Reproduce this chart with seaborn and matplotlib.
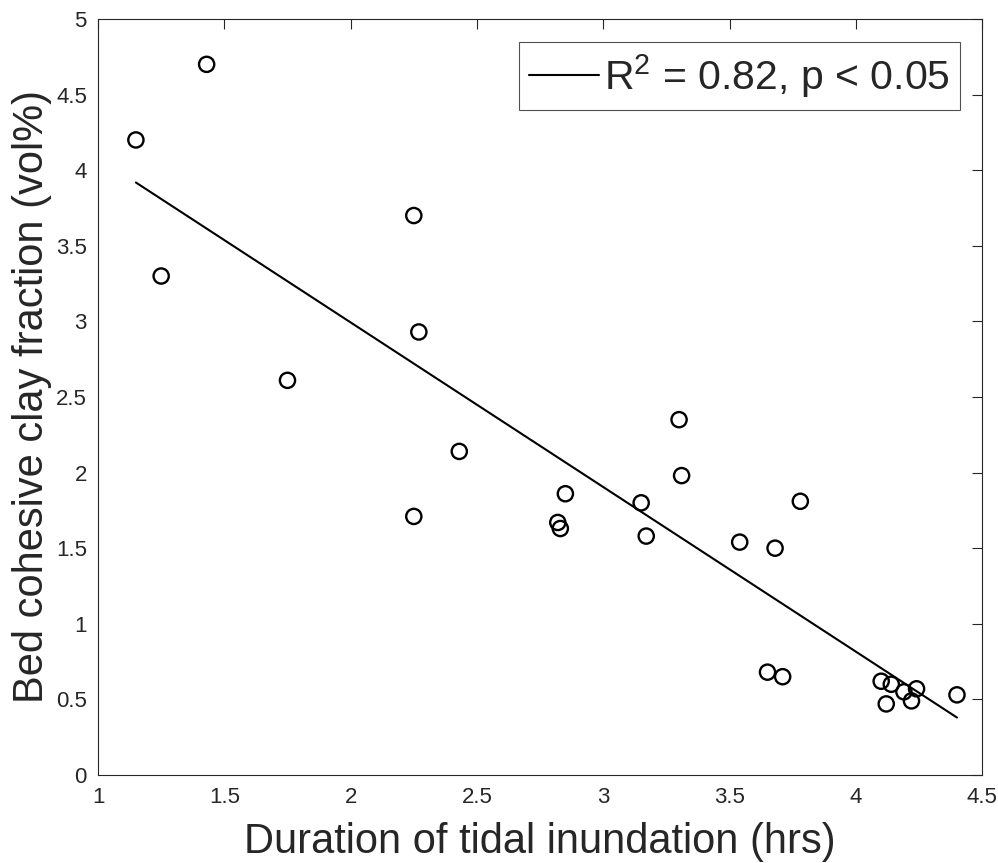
import numpy as np
import pandas as pd
import seaborn as sns
import matplotlib.pyplot as plt

# %% Data

# Duration of tidal inundation (hrs)
lst_duration = [1.15, 1.25, 1.43, 1.75, 2.25, 2.27, 2.25, 2.43, 2.82, 2.83,
                2.85, 3.15, 3.17, 3.30, 3.31, 3.54, 3.68, 3.78, 3.65, 3.71,
                4.10, 4.12, 4.14, 4.19, 4.22, 4.24, 4.40]

# Bed cohesive clay fraction (vol%)
lst_clay = [4.20, 3.30, 4.70, 2.61, 3.70, 2.93, 1.71, 2.14, 1.67, 1.63,
            1.86, 1.80, 1.58, 2.35, 1.98, 1.54, 1.50, 1.81, 0.68, 0.65,
            0.62, 0.47, 0.60, 0.55, 0.49, 0.57, 0.53]

str_legend = r'R$^2$ = 0.82, p < 0.05'

df = pd.DataFrame({'duration': lst_duration, 'clay': lst_clay})

# %% Plot

sns.set_style('white')
plt.rcParams['font.family'] = ['Liberation Sans', 'DejaVu Sans']
plt.rcParams['mathtext.fontset'] = 'custom'
plt.rcParams['mathtext.rm'] = 'Liberation Sans'

fig = plt.figure(figsize=(9.98, 8.63), dpi=100)
ax = fig.add_axes([0.0982, 0.102, 0.886, 0.876])

# linear fit over the data range
sns.regplot(data=df, x='duration', y='clay', scatter=False, ci=None,
            truncate=True, color='black', ax=ax,
            line_kws={'linewidth': 1.5})
fit_line = ax.lines[0]
fit_line.set_label(str_legend)

sns.scatterplot(data=df, x='duration', y='clay', marker='o', s=120,
                facecolor='none', edgecolor='black', linewidth=1.7, ax=ax,
                legend=False)

ax.set_xlim(1, 4.5)
ax.set_ylim(0, 5)
ax.set_xticks(np.arange(1, 4.51, 0.5))
ax.set_yticks(np.arange(0, 5.01, 0.5))
ax.set_xticklabels(['1', '1.5', '2', '2.5', '3', '3.5', '4', '4.5'])
ax.set_yticklabels(['0', '0.5', '1', '1.5', '2', '2.5', '3', '3.5', '4',
                    '4.5', '5'])
ax.tick_params(direction='in', length=7, width=0.8, colors='#262626',
               labelsize=16, top=True, right=True)
ax.tick_params(axis='x', pad=9)
ax.tick_params(axis='y', pad=8)
for spine in ax.spines.values():
    spine.set_color('#262626')
    spine.set_linewidth(0.8)

ax.set_xlabel('Duration of tidal inundation (hrs)', fontsize=30,
              color='#262626', labelpad=10)
ax.set_ylabel('Bed cohesive clay fraction (vol%)', fontsize=30,
              color='#262626', labelpad=3)

leg = ax.legend(handles=[fit_line], loc='upper right', fontsize=29.5,
                frameon=True, fancybox=False, handlelength=1.7,
                handletextpad=0.12, borderpad=0.25, borderaxespad=0.55)
leg.get_frame().set_edgecolor('#262626')
leg.get_frame().set_linewidth(0.8)

fig.savefig('out.png', dpi=100)
